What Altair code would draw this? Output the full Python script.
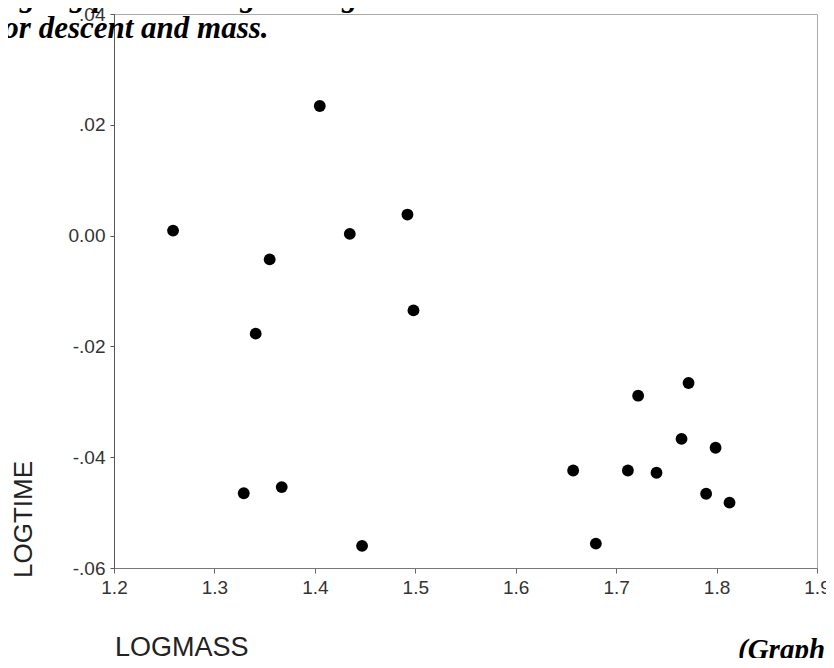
import altair as alt
import pandas as pd

# Data
logmass = [1.2588, 1.4049, 1.3550, 1.4348, 1.4922, 1.4982, 1.3411, 1.3292, 1.3670, 1.4470,
           1.6572, 1.6798, 1.7117, 1.7402, 1.7219, 1.7721, 1.7651, 1.7990, 1.7896, 1.8129]
logtime = [0.0009, 0.0234, -0.0043, 0.0003, 0.0038, -0.0135, -0.0177, -0.0465, -0.0454, -0.0560,
           -0.0424, -0.0556, -0.0424, -0.0428, -0.0289, -0.0266, -0.0367, -0.0383, -0.0466, -0.0482]

x_ticks = [1.2, 1.3, 1.4, 1.5, 1.6, 1.7, 1.8, 1.9]
x_tick_labels = ["1.2", "1.3", "1.4", "1.5", "1.6", "1.7", "1.8", "1.9"]
y_ticks = [-0.06, -0.04, -0.02, 0.0, 0.02, 0.04]
y_tick_labels = ["-.06", "-.04", "-.02", "0.00", ".02", ".04"]

title_line1 = "log-log plot showing the negative correlation between time taken"
title_line2 = "for descent and mass."
caption = "(Graph"
x_title = "LOGMASS"
y_title = "LOGTIME"

df = pd.DataFrame({"LOGMASS": logmass, "LOGTIME": logtime})


def label_expr(vals, labels):
    parts = [f"abs(datum.value - ({v})) < 1e-6 ? '{l}'" for v, l in zip(vals, labels)]
    return " : ".join(parts) + " : ''"


W, H = 703, 554
sans = "Liberation Sans"
serif = "Liberation Serif"

points = alt.Chart(df).mark_circle(size=140, color="black", opacity=1).encode(
    x=alt.X("LOGMASS:Q",
            scale=alt.Scale(domain=[1.2, 1.9], nice=False, zero=False),
            axis=alt.Axis(values=x_ticks, labelExpr=label_expr(x_ticks, x_tick_labels),
                          title=None, grid=False, tickSize=5, labelPadding=5,
                          labelFontSize=19, labelFont=sans, labelColor="#333",
                          domainColor="#777", tickColor="#666", labelFlush=False)),
    y=alt.Y("LOGTIME:Q",
            scale=alt.Scale(domain=[-0.06, 0.04], nice=False, zero=False),
            axis=alt.Axis(values=y_ticks, labelExpr=label_expr(y_ticks, y_tick_labels),
                          title=None, grid=False, tickSize=4, labelPadding=5,
                          labelFontSize=19, labelFont=sans, labelColor="#333",
                          domainColor="#555", tickColor="#555", labelFlush=False)),
)


def text_layer(txt, x, y, **kw):
    return alt.Chart(pd.DataFrame({"t": [txt]})).mark_text(**kw).encode(
        text="t:N", x=alt.value(x), y=alt.value(y))


t1 = text_layer(title_line1, -118, -8, font=serif, fontSize=31, fontWeight="bold",
                fontStyle="italic", align="left", baseline="alphabetic", color="black")
t2 = text_layer(title_line2, -121, 24, font=serif, fontSize=31, fontWeight="bold",
                fontStyle="italic", align="left", baseline="alphabetic", color="black")
cap = text_layer(caption, 624, 645, font=serif, fontSize=29, fontWeight="bold",
                 fontStyle="italic", align="left", baseline="alphabetic", color="black")
xt = text_layer(x_title, 1, 634, font=sans, fontSize=27, align="left",
                baseline="middle", color="#222")
yt = text_layer(y_title, -90, 564, font=sans, fontSize=26, align="left",
                baseline="middle", angle=270, color="#222")

chart = alt.layer(points, t1, t2, cap, xt, yt).properties(
    width=W, height=H,
    autosize=alt.AutoSizeParams(type="none"),
    padding={"left": 106, "top": 6, "right": 9, "bottom": 90},
    background="white",
).configure_view(stroke="#aaa", strokeWidth=1)

chart.save("out.html", embed_options={"renderer": "svg", "actions": False})
